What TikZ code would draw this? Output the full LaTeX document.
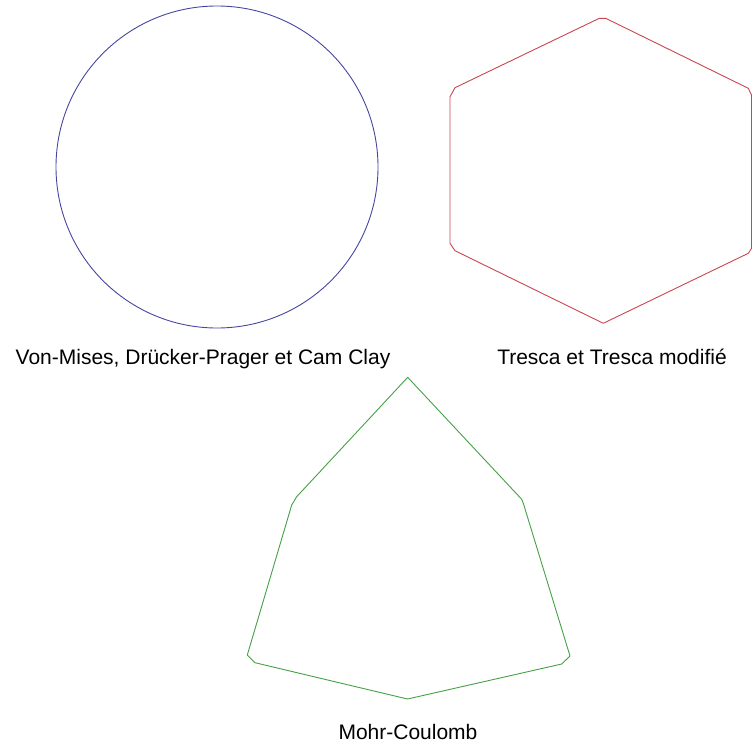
\documentclass[tikz,border=0pt]{standalone}
\usepackage{fontspec}
\setmainfont{Liberation Sans}
\usepackage{tikz}

\begin{document}
\begin{tikzpicture}[x=1pt, y=-1pt,
  crit/.style={line width=0.9pt, line join=round},
  lbl/.style={anchor=base, inner sep=0pt, font=\fontsize{21}{25}\selectfont}]
\useasboundingbox (0,0) rectangle (752,744);
% Von-Mises
\draw[crit, color={rgb,255:red,70;green,70;blue,160}] (217,167) circle (161);
% Tresca
\draw[crit, color={rgb,255:red,200;green,70;blue,80}]
  (599.3,18.3) -- (605.7,18.3) -- (748.3,88.3) -- (751.5,95) -- (751.5,248.3)
  -- (748.3,253.3) -- (603.3,323.3) -- (455,250.7) -- (450,243.3) -- (450,96.7)
  -- (455,87.7) -- cycle;
% Mohr-Coulomb
\draw[crit, color={rgb,255:red,70;green,160;blue,70}]
  (407.7,377.3) -- (521.7,499.3) -- (523.3,503.3) -- (570,656) -- (561.7,664)
  -- (407.5,699) -- (255,662.7) -- (247.3,655) -- (291.7,505) -- (296.7,496.7) -- cycle;
\node[lbl] (vm) at (203,364) {Von-Mises, Drücker-Prager et Cam Clay};
\node[lbl] (tr) at (612,364) {Tresca et Tresca modifié};
\node[lbl] (mc) at (408,739.5) {Mohr-Coulomb};
\end{tikzpicture}
\end{document}
